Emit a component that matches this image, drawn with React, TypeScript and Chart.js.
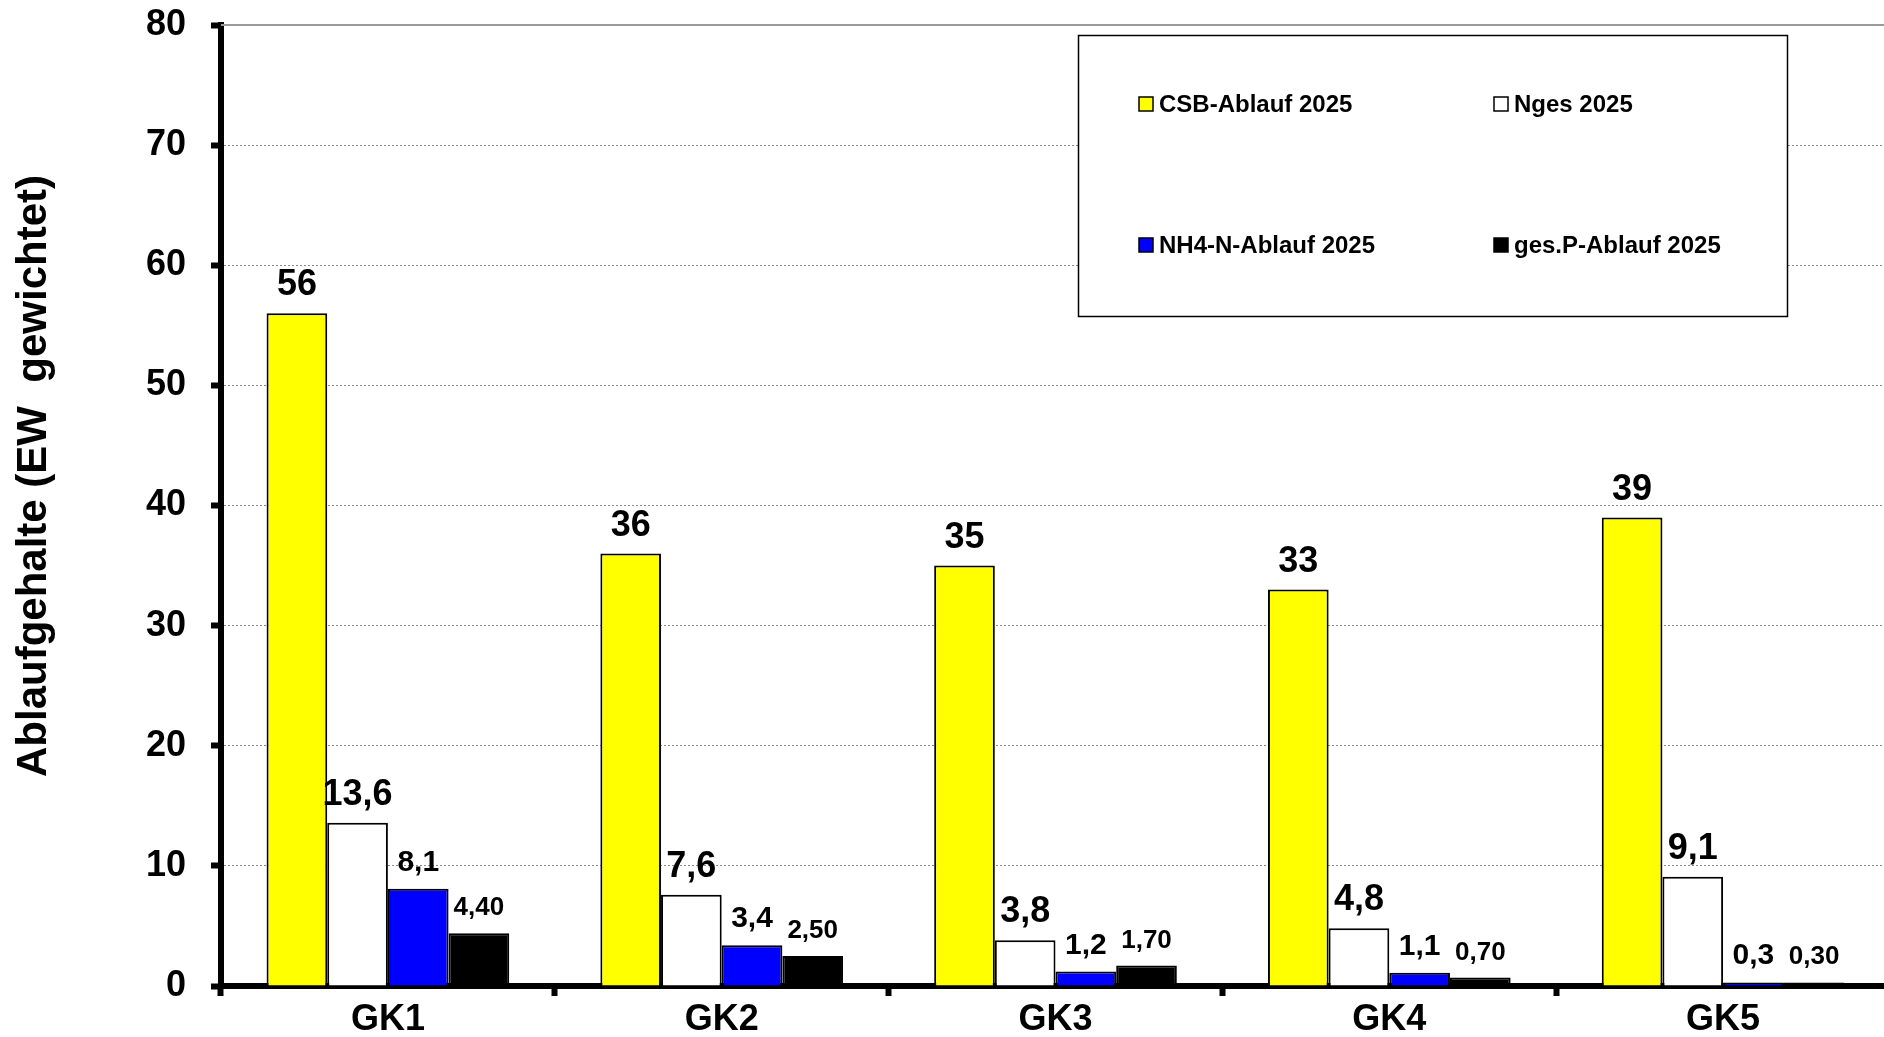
import { useEffect, useRef } from "react";
import { Chart, registerables } from "chart.js";

Chart.register(...registerables);

// Kategorien (Größenklassen) und Messwerte
const categories = ["GK1", "GK2", "GK3", "GK4", "GK5"];
const csbAblauf = [56, 36, 35, 33, 39];
const nGes = [13.6, 7.6, 3.8, 4.8, 9.1];
const nh4Ablauf = [8.1, 3.4, 1.2, 1.1, 0.3];
const gesPAblauf = [4.4, 2.5, 1.7, 0.7, 0.3];

const seriesLabels = [
  "CSB-Ablauf 2025",
  "Nges 2025",
  "NH4-N-Ablauf 2025",
  "ges.P-Ablauf 2025",
];
const seriesColors = ["#ffff00", "#ffffff", "#0000ff", "#000000"];
const labelDecimals = [0, 1, 1, 2];
const yTicks = [0, 10, 20, 30, 40, 50, 60, 70, 80];
const yTitle = "Ablaufgehalte (EW  gewichtet)";

const FONT = "'Liberation Sans', Arial, Helvetica, sans-serif";
const labelSizes = [36, 36, 30, 26];

const fmt = (v: number, d: number) => v.toFixed(d).replace(".", ",");

// Wertebeschriftungen über den Balken
const valueLabelPlugin = {
  id: "valueLabels",
  afterDatasetsDraw(chart: any) {
    const ctx = chart.ctx;
    ctx.save();
    ctx.fillStyle = "#000";
    ctx.textAlign = "center";
    ctx.textBaseline = "alphabetic";
    chart.data.datasets.forEach((ds: any, i: number) => {
      const meta = chart.getDatasetMeta(i);
      ctx.font = `bold ${labelSizes[i]}px ${FONT}`;
      meta.data.forEach((bar: any, j: number) => {
        ctx.fillText(fmt(ds.data[j], labelDecimals[i]), bar.x, bar.y - 18);
      });
    });
    ctx.restore();
  },
};

// Legende im Rahmen (2 x 2), Achsentitel und obere Begrenzungslinie
const decorPlugin = {
  id: "decor",
  afterDraw(chart: any) {
    const ctx = chart.ctx;
    const area = chart.chartArea;
    ctx.save();

    // obere Linie bei 80
    ctx.strokeStyle = "#9a9a9a";
    ctx.lineWidth = 2;
    ctx.beginPath();
    ctx.moveTo(area.left, area.top);
    ctx.lineTo(area.right, area.top);
    ctx.stroke();

    // Legendenrahmen
    const bx = 1078, by = 35, bw = 709, bh = 281;
    ctx.fillStyle = "#fff";
    ctx.fillRect(bx, by, bw, bh);
    ctx.strokeStyle = "#000";
    ctx.lineWidth = 1.5;
    ctx.strokeRect(bx + 0.5, by + 0.5, bw, bh);

    const cols = [1139, 1494];
    const rows = [104, 245];
    ctx.font = `bold 24px ${FONT}`;
    ctx.textAlign = "left";
    ctx.textBaseline = "middle";
    chart.data.datasets.forEach((ds: any, i: number) => {
      const x = cols[i % 2];
      const y = rows[Math.floor(i / 2)];
      ctx.fillStyle = ds.backgroundColor;
      ctx.fillRect(x, y - 7, 14, 14);
      ctx.strokeStyle = "#000";
      ctx.lineWidth = 1.5;
      ctx.strokeRect(x, y - 7, 14, 14);
      ctx.fillStyle = "#000";
      ctx.fillText(ds.label, x + 20, y + 1);
    });

    // y-Achsentitel
    ctx.translate(34, 476);
    ctx.rotate(-Math.PI / 2);
    ctx.font = `bold 42px ${FONT}`;
    ctx.textAlign = "center";
    ctx.textBaseline = "middle";
    ctx.fillStyle = "#000";
    ctx.fillText(yTitle, 0, 0);

    ctx.restore();
  },
};

export default function App() {
  const ref = useRef<HTMLCanvasElement | null>(null);

  useEffect(() => {
    if (!ref.current) return;
    const seriesData = [csbAblauf, nGes, nh4Ablauf, gesPAblauf];
    const chart = new Chart(ref.current, {
      type: "bar",
      data: {
        labels: categories,
        datasets: seriesData.map((d, i) => ({
          label: seriesLabels[i],
          data: d,
          backgroundColor: seriesColors[i],
          borderColor: "#000",
          borderWidth: 2,
          categoryPercentage: 0.727,
          barPercentage: 1,
        })),
      },
      options: {
        responsive: false,
        animation: false,
        devicePixelRatio: 1,
        layout: { padding: { top: 25, right: 10, left: 0, bottom: 0 } },
        plugins: {
          legend: { display: false },
          tooltip: { enabled: false },
        },
        scales: {
          x: {
            afterFit: (s: any) => {
              s.height = 51;
            },
            grid: {
              display: true,
              drawOnChartArea: false,
              drawTicks: true,
              offset: true,
              tickLength: 10,
              tickWidth: 6,
              tickColor: "#000",
            },
            border: { display: true, color: "#000", width: 6 },
            ticks: {
              color: "#000",
              font: { family: FONT, size: 36, weight: "bold" },
              padding: 2,
            },
          },
          y: {
            min: 0,
            max: 80,
            afterFit: (s: any) => {
              s.width = 221;
              s.paddingTop = 0;
              s.paddingBottom = 0;
            },
            afterBuildTicks: (s: any) => {
              s.ticks = yTicks.map((v) => ({ value: v }));
            },
            grid: {
              color: "#8a8a8a",
              lineWidth: 1,
              drawTicks: true,
              tickLength: 10,
              tickWidth: 6,
              tickColor: "#000",
              tickBorderDash: [],
            },
            border: { display: true, color: "#000", width: 6, dash: [2, 2] },
            ticks: {
              color: "#000",
              font: { family: FONT, size: 36, weight: "bold" },
              padding: 25,
            },
          },
        },
      },
      plugins: [valueLabelPlugin, decorPlugin],
    } as any);
    return () => chart.destroy();
  }, []);

  return (
    <div
      style={{
        position: "fixed",
        left: 0,
        top: 0,
        width: 1884,
        height: 1037,
        overflow: "hidden",
        background: "#fff",
      }}
    >
      <canvas
        ref={ref}
        width={1900}
        height={1037}
        style={{ display: "block", width: 1900, height: 1037 }}
      />
    </div>
  );
}
